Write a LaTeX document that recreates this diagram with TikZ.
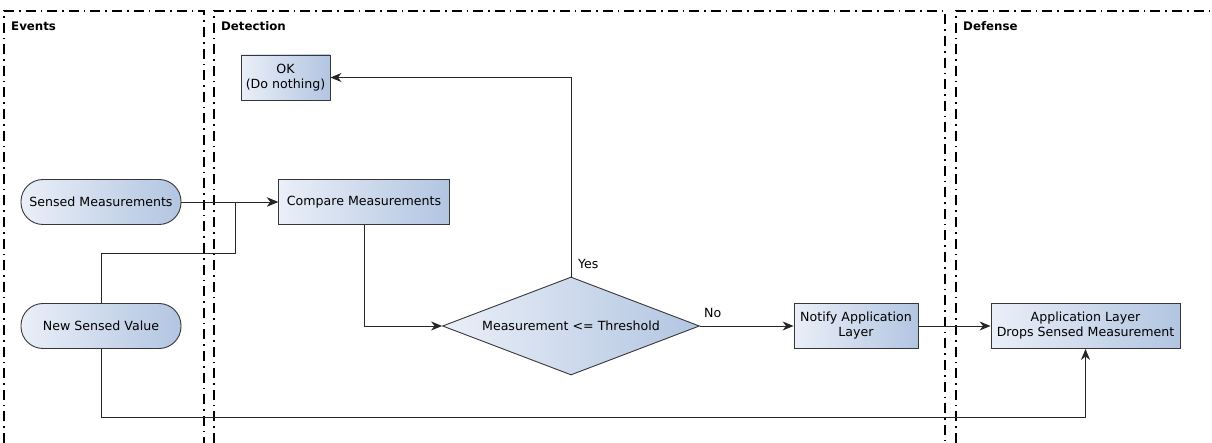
\documentclass[tikz,border=0pt]{standalone}
\usepackage{fontspec}
\setmainfont{DejaVu Sans}
\usetikzlibrary{shapes.geometric,arrows.meta}

\definecolor{boxlight}{RGB}{234,239,248}
\definecolor{boxdark}{RGB}{178,197,225}
\definecolor{boxline}{RGB}{55,55,55}

\tikzset{
  box/.style={draw=boxline, line width=0.9pt, left color=boxlight, right color=boxdark,
    minimum height=45pt, align=center, inner xsep=2pt, inner ysep=1pt,
    font=\fontsize{12.6}{15}\selectfont},
  event/.style={box, rounded corners=22pt, minimum width=160pt},
  action/.style={box, rectangle},
  decision/.style={box, diamond, aspect=2.62, minimum width=257pt, minimum height=98pt, inner sep=0pt},
  flow/.style={draw=black!85, line width=0.9pt, -{Stealth[length=11pt,width=9pt,inset=3.5pt]}},
  lane/.style={line width=1.8pt, dash pattern=on 10pt off 5pt on 1.6pt off 5pt},
  lanetitle/.style={anchor=west, inner sep=0pt, font=\bfseries\fontsize{11.8}{14}\selectfont},
  guard/.style={inner sep=0pt, font=\fontsize{12.6}{15}\selectfont}
}

\begin{document}
\begin{tikzpicture}[x=1pt,y=-1pt]
\useasboundingbox (0,0) rectangle (1212,443);

% swimlanes
\draw[lane] (4,443) -- (4,11) -- (204,11) -- (204,443);
\draw[lane] (214,443) -- (214,11) -- (945,11) -- (945,443);
\draw[lane] (956,443) -- (956,11) -- (1212,11);

\node[lanetitle] at (11,26) {Events};
\node[lanetitle] at (221,26) {Detection};
\node[lanetitle] at (963,26) {Defense};

% nodes
\node[event] (sensed) at (101,202) {Sensed Measurements};
\node[event] (newval) at (101,326) {New Sensed Value};
\node[action, minimum width=171pt] (compare) at (364,202) {Compare Measurements};
\node[action, minimum width=89pt] (ok) at (285.5,77.5) {OK\\(Do nothing)};
\node[decision] (check) at (571,326) {Measurement <= Threshold};
\node[action, minimum width=124pt] (notify) at (856,326) {Notify Application\\Layer};
\node[action, minimum width=189pt] (drop) at (1085.5,326) {Application Layer\\Drops Sensed Measurement};

\coordinate (join) at (235,253);
\coordinate (low) at (0,417);

% connectors
\draw[flow] (sensed.east) -- (compare.west);
\draw[flow] (newval.north) |- (join) |- (compare.west);
\draw[flow] (compare.south) |- (check.west);
\draw[flow] (check.north) |- (ok.east);
\draw[flow] (check.east) -- (notify.west);
\draw[flow] (notify.east) -- (drop.west);
\draw[flow] (newval.south) -- (newval.south |- low) -| (drop.south);

\node[guard, anchor=south west] at ([xshift=7pt,yshift=8pt]check.north) {Yes};
\node[guard, anchor=south west] at ([xshift=4pt,yshift=8pt]check.east) {No};
\end{tikzpicture}
\end{document}
